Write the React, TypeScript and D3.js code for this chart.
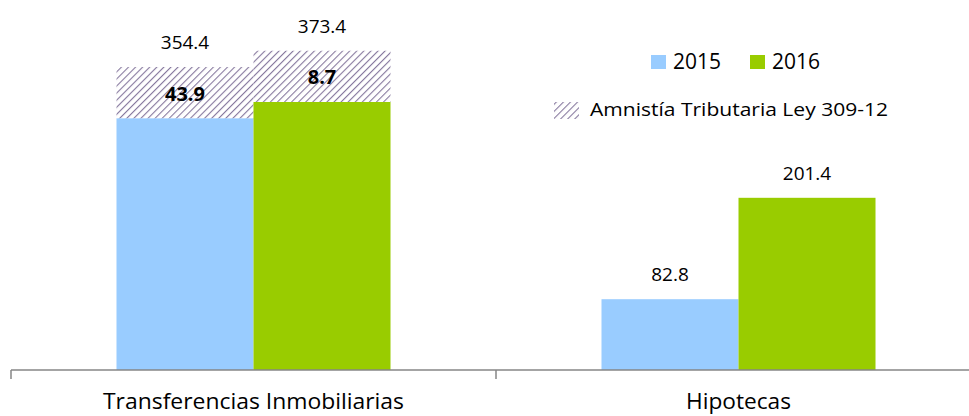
import React from 'react';
import * as d3 from 'd3';

const categories = ['Transferencias Inmobiliarias', 'Hipotecas'];
const categoryWidths = [301, 105];
const series = ['2015', '2016'];
const values2015 = [294.5, 82.8];
const values2016 = [313.5, 201.4];
const amnistia2015 = [59.9, 0];
const amnistia2016 = [59.9, 0];
const amnistiaLabels2015 = ['43.9', ''];
const amnistiaLabels2016 = ['8.7', ''];
const amnistiaName = 'Amnistía Tributaria Ley 309-12';

const colors = ['#99CCFF', '#99CC00'];
const font = "'Open Sans', sans-serif";

const W = 969;
const H = 416;
const left = 11;
const baseY = 370;

export default function App() {
  const x0 = d3.scaleBand().domain(categories).range([left, left + 970]).paddingInner(0).paddingOuter(0);
  const x1 = d3.scaleBand().domain(series).range([0, x0.bandwidth()]).paddingInner(0).paddingOuter(0.77);
  const y = d3.scaleLinear().domain([0, 400]).range([baseY, baseY - 342]);

  const vals = [values2015, values2016];
  const amn = [amnistia2015, amnistia2016];
  const amnLabels = [amnistiaLabels2015, amnistiaLabels2016];

  const ticks = [...categories.map((c) => x0(c)!), left + 970];

  return (
    <svg width={W} height={H} style={{ position: 'absolute', left: 0, top: 0 }} fontFamily={font}>
      <defs>
        <pattern id="hatch" width="5" height="5" patternUnits="userSpaceOnUse" patternTransform="rotate(45)">
          <rect width="5" height="5" fill="#ffffff" />
          <line x1="0" y1="0" x2="0" y2="5" stroke="#86789e" strokeWidth="2.2" />
        </pattern>
      </defs>

      {categories.map((c, i) => (
        <g key={c} transform={`translate(${x0(c)},0)`}>
          {series.map((s, j) => {
            const v = vals[j][i];
            const a = amn[j][i];
            const bx = x1(s)!;
            const bw = x1.bandwidth();
            const cx = bx + bw / 2;
            const total = v + a;
            return (
              <g key={s}>
                <rect x={bx} y={y(v)} width={bw} height={baseY - y(v)} fill={colors[j]} />
                {a > 0 && (
                  <rect x={bx} y={y(total)} width={bw} height={y(v) - y(total)} fill="url(#hatch)" />
                )}
                {a > 0 && (
                  <text x={cx} y={(y(v) + y(total)) / 2 + 8} textAnchor="middle" fontSize={20} fontWeight="bold" fill="#000">
                    {amnLabels[j][i]}
                  </text>
                )}
                <text x={cx} y={y(total) - 18} textAnchor="middle" fontSize={19} fill="#000">
                  {total.toFixed(1)}
                </text>
              </g>
            );
          })}
        </g>
      ))}

      <line x1={left} x2={W} y1={baseY} y2={baseY} stroke="#868686" strokeWidth={1.5} />
      {ticks.map((t, i) => (
        <line key={i} x1={t} x2={t} y1={baseY} y2={baseY + 9} stroke="#868686" strokeWidth={1.5} />
      ))}
      {categories.map((c, i) => (
        <text
          key={c}
          x={x0(c)! + x0.bandwidth() / 2}
          y={409}
          textAnchor="middle"
          fontSize={22}
          textLength={categoryWidths[i]}
          lengthAdjust="spacingAndGlyphs"
          fill="#000"
        >
          {c}
        </text>
      ))}

      {series.map((s, j) => (
        <g key={s} transform={`translate(${651 + j * 99},0)`}>
          <rect x={0} y={55} width={15} height={14} fill={colors[j]} />
          <text x={22} y={69} fontSize={21} fill="#000">{s}</text>
        </g>
      ))}
      <rect x={554} y={102} width={25} height={17} fill="url(#hatch)" />
      <text x={590} y={116} fontSize={18} textLength={298} lengthAdjust="spacingAndGlyphs" fill="#000">
        {amnistiaName}
      </text>
    </svg>
  );
}
